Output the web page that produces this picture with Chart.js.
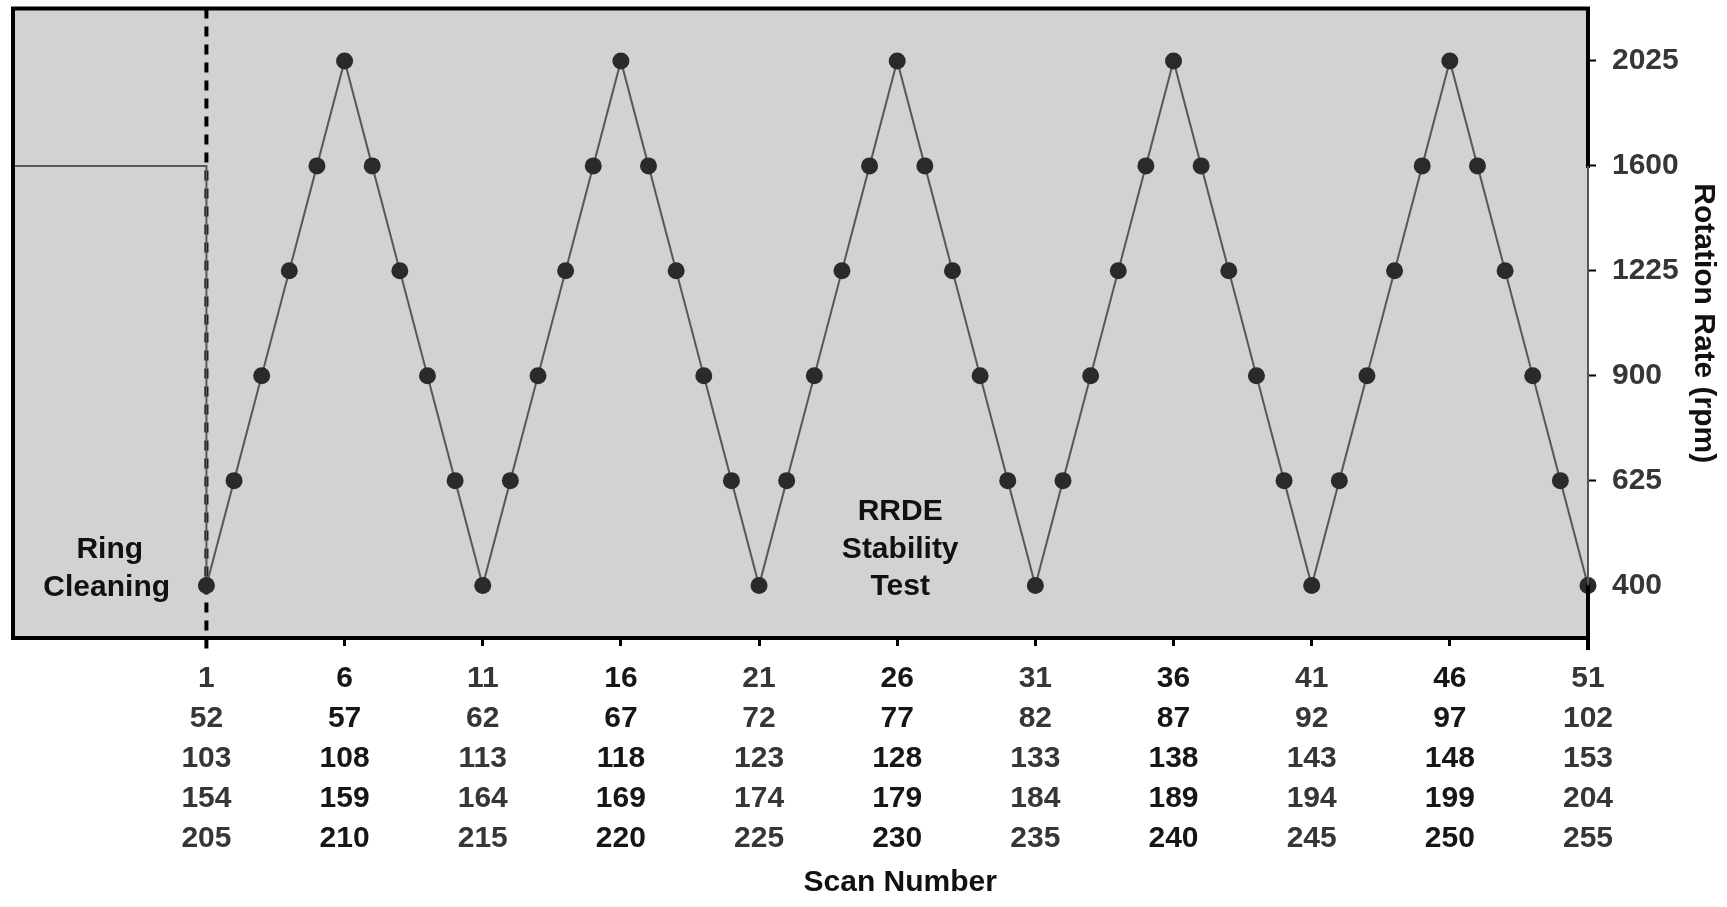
<!DOCTYPE html>
<html>
<head>
<meta charset="utf-8">
<script src="https://cdn.jsdelivr.net/npm/chart.js@4/dist/chart.umd.min.js"></script>
<style>
  html, body { margin: 0; padding: 0; background: #ffffff; }
  #wrap { width: 1727px; height: 907px; }
</style>
</head>
<body>
<div id="wrap"><canvas id="c" width="1727" height="907"></canvas></div>
<script>
// Scan number and rotation rate for each scan of the RRDE stability test
const scans = [1, 2, 3, 4, 5, 6, 7, 8, 9, 10,
               11, 12, 13, 14, 15, 16, 17, 18, 19, 20,
               21, 22, 23, 24, 25, 26, 27, 28, 29, 30,
               31, 32, 33, 34, 35, 36, 37, 38, 39, 40,
               41, 42, 43, 44, 45, 46, 47, 48, 49, 50, 51];
const rpm = [400, 625, 900, 1225, 1600, 2025, 1600, 1225, 900, 625,
             400, 625, 900, 1225, 1600, 2025, 1600, 1225, 900, 625,
             400, 625, 900, 1225, 1600, 2025, 1600, 1225, 900, 625,
             400, 625, 900, 1225, 1600, 2025, 1600, 1225, 900, 625,
             400, 625, 900, 1225, 1600, 2025, 1600, 1225, 900, 625, 400];

// Ring cleaning step before the first scan
const cleanScans = [-6, 1, 1];
const cleanRpm = [1600, 1600, 400];

// Axis ticks
const rpmTicks = [400, 625, 900, 1225, 1600, 2025];
const scanTicks = [1, 6, 11, 16, 21, 26, 31, 36, 41, 46, 51];
const scanTickRows = [
  ['1', '52', '103', '154', '205'],
  ['6', '57', '108', '159', '210'],
  ['11', '62', '113', '164', '215'],
  ['16', '67', '118', '169', '220'],
  ['21', '72', '123', '174', '225'],
  ['26', '77', '128', '179', '230'],
  ['31', '82', '133', '184', '235'],
  ['36', '87', '138', '189', '240'],
  ['41', '92', '143', '194', '245'],
  ['46', '97', '148', '199', '250'],
  ['51', '102', '153', '204', '255']
];

const FONT = '"Liberation Sans", Arial, Helvetica, sans-serif';

// The rotation axis is linear in sqrt(rpm), so plot sqrt values and label with rpm
const mainPoints = scans.map((s, i) => ({ x: s, y: Math.sqrt(rpm[i]) }));
const cleanPoints = cleanScans.map((s, i) => ({ x: s, y: Math.sqrt(cleanRpm[i]) }));

const framePlugin = {
  id: 'frame',
  beforeDraw(chart) {
    const { ctx, chartArea: a } = chart;
    ctx.save();
    ctx.fillStyle = '#d2d2d2';
    ctx.fillRect(a.left, a.top, a.right - a.left, a.bottom - a.top);
    ctx.restore();
  },
  beforeDatasetsDraw(chart) {
    const { ctx, chartArea: a, scales: { x } } = chart;
    const px = x.getPixelForValue(1);
    ctx.save();
    ctx.strokeStyle = '#000';
    ctx.lineWidth = 4;
    ctx.setLineDash([10, 8]);
    ctx.beginPath();
    ctx.moveTo(px, a.top);
    ctx.lineTo(px, a.bottom + 12);
    ctx.stroke();
    ctx.restore();
  },
  afterDatasetsDraw(chart) {
    const { ctx, chartArea: a, scales: { x, y } } = chart;
    ctx.save();
    // Frame: thick on three sides, right side thin between 400 and 1600 rpm
    const y1600 = y.getPixelForValue(Math.sqrt(1600));
    const y400 = y.getPixelForValue(Math.sqrt(400));
    ctx.strokeStyle = '#000';
    ctx.lineWidth = 4;
    ctx.lineCap = 'square';
    ctx.beginPath();
    ctx.moveTo(a.left, a.bottom);
    ctx.lineTo(a.left, a.top);
    ctx.lineTo(a.right, a.top);
    ctx.lineTo(a.right, y1600);
    ctx.moveTo(a.right, y400);
    ctx.lineTo(a.right, a.bottom + 10);
    ctx.moveTo(a.left, a.bottom);
    ctx.lineTo(a.right, a.bottom);
    ctx.stroke();
    ctx.lineCap = 'butt';
    ctx.strokeStyle = '#555';
    ctx.lineWidth = 2;
    ctx.beginPath();
    ctx.moveTo(a.right, y1600);
    ctx.lineTo(a.right, y400);
    ctx.stroke();

    // Annotations
    ctx.fillStyle = '#111';
    ctx.font = 'bold 30px ' + FONT;
    ctx.textAlign = 'center';
    ctx.textBaseline = 'middle';
    const rx = x.getPixelForValue(-2.5);
    ctx.fillText('Ring', rx, 550);
    ctx.fillText('Cleaning', rx - 3, 588);
    const sx = x.getPixelForValue(26) + 3;
    ctx.fillText('RRDE', sx, 512);
    ctx.fillText('Stability', sx, 550);
    ctx.fillText('Test', sx, 587);
    ctx.fillText('Scan Number', sx, 883);
    ctx.restore();
  }
};

new Chart(document.getElementById('c'), {
  type: 'line',
  data: {
    datasets: [
      {
        data: mainPoints,
        borderColor: '#585858',
        borderWidth: 2,
        pointRadius: 8.5,
        pointHoverRadius: 8.5,
        pointBackgroundColor: '#2a2a2a',
        pointBorderWidth: 0,
        tension: 0,
        clip: false
      },
      {
        data: cleanPoints,
        borderColor: '#585858',
        borderWidth: 2,
        pointRadius: 0,
        tension: 0
      }
    ]
  },
  options: {
    responsive: false,
    animation: false,
    devicePixelRatio: 1,
    layout: { padding: { left: 13, top: 5, right: 0, bottom: 0 } },
    plugins: {
      legend: { display: false },
      tooltip: { enabled: false }
    },
    scales: {
      x: {
        type: 'linear',
        position: 'bottom',
        min: -6,
        max: 51,
        afterBuildTicks: (s) => { s.ticks = scanTicks.map(v => ({ value: v })); },
        afterFit: (s) => { s.height = 269; s.paddingLeft = 0; s.paddingRight = 0; },
        border: { display: false },
        grid: {
          drawOnChartArea: false,
          drawTicks: true,
          tickLength: 8,
          tickWidth: 3,
          tickColor: '#000'
        },
        ticks: {
          autoSkip: false,
          maxRotation: 0,
          padding: 13,
          font: { family: FONT, size: 30, weight: 'bold', lineHeight: 40 / 30 },
          color: (c) => (c.index % 2 === 1 ? '#161616' : '#363636'),
          callback: (v, i) => scanTickRows[i]
        }
      },
      y: {
        type: 'linear',
        position: 'right',
        min: 17.5,
        max: 47.5,
        afterBuildTicks: (s) => { s.ticks = rpmTicks.map(r => ({ value: Math.sqrt(r) })); },
        afterFit: (s) => { s.width = 139; s.paddingTop = 0; s.paddingBottom = 0; },
        border: { display: false },
        grid: {
          drawOnChartArea: false,
          drawTicks: true,
          tickLength: 8,
          tickWidth: 2,
          tickColor: '#000'
        },
        ticks: {
          padding: 16,
          font: { family: FONT, size: 30, weight: 'bold' },
          color: '#363636',
          callback: (v) => String(Math.round(v * v))
        },
        title: {
          display: true,
          text: 'Rotation Rate (rpm)',
          color: '#111',
          font: { family: FONT, size: 30, weight: 'bold' },
          padding: { top: 6, bottom: 0 }
        }
      }
    }
  },
  plugins: [framePlugin]
});
</script>
</body>
</html>
